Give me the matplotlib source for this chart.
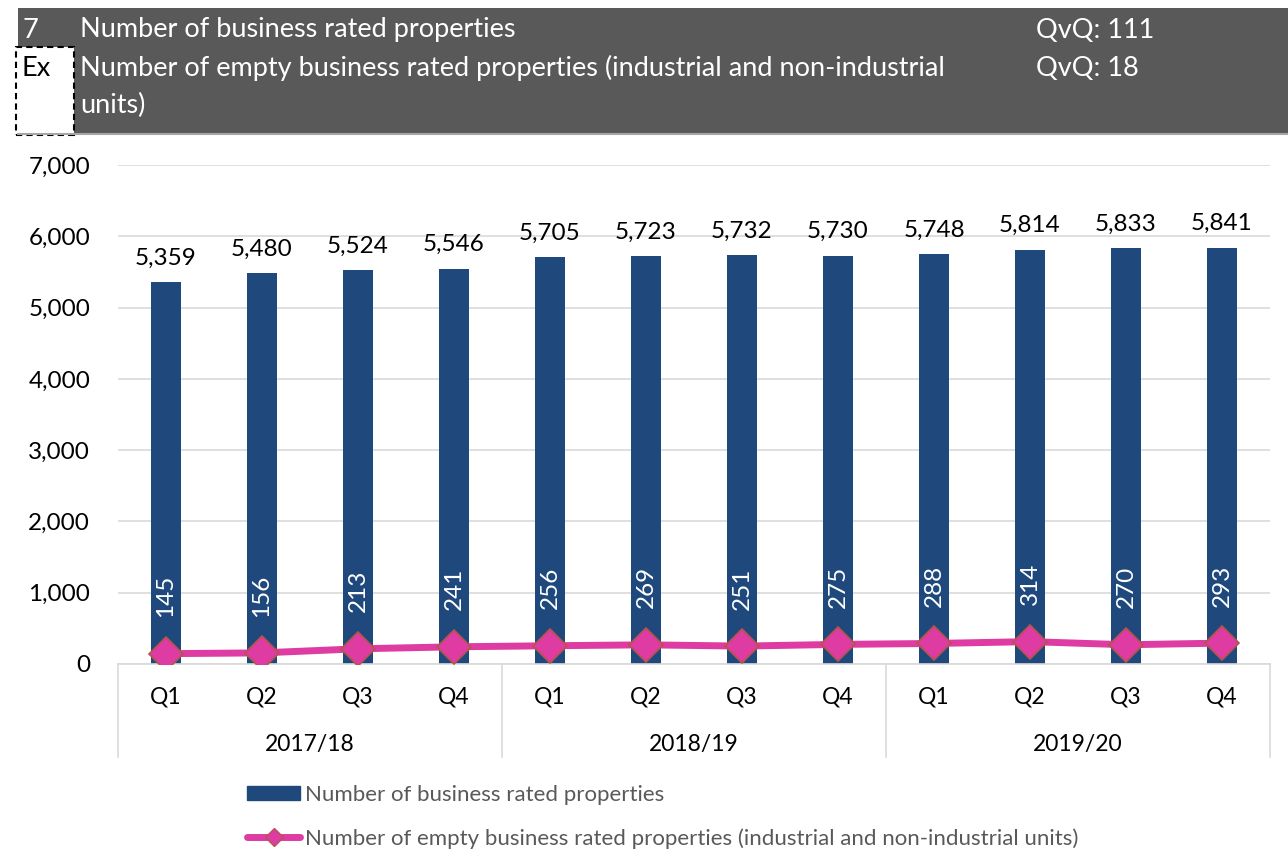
import matplotlib
matplotlib.use("Agg")
import matplotlib.pyplot as plt
import matplotlib.patches as mpatches
import matplotlib.lines as mlines
from matplotlib.transforms import blended_transform_factory

plt.rcParams['font.family'] = ['Lato', 'DejaVu Sans']

quarters = ["Q1", "Q2", "Q3", "Q4"] * 3
years = ["2017/18", "2018/19", "2019/20"]
total_props = [5359, 5480, 5524, 5546, 5705, 5723, 5732, 5730, 5748, 5814, 5833, 5841]
empty_props = [145, 156, 213, 241, 256, 269, 251, 275, 288, 314, 270, 293]
yticks = [0, 1000, 2000, 3000, 4000, 5000, 6000, 7000]

W, H = 1288, 867
fig = plt.figure(figsize=(W / 100, H / 100), dpi=100)

def fx(px):
    return px / W

def fy(py):
    return 1 - py / H

# Header band
fig.patches.append(mpatches.Rectangle((fx(18), fy(133)), fx(1288 - 18), (133 - 8) / H,
                                      transform=fig.transFigure, facecolor="#595959",
                                      edgecolor="none", zorder=0))
fig.lines.append(mlines.Line2D([fx(18), 1], [fy(134), fy(134)], transform=fig.transFigure,
                               color="#A6A6A6", lw=1.5))
# white dashed box
fig.patches.append(mpatches.Rectangle((fx(16), fy(135)), fx(58), (135 - 47) / H,
                                      transform=fig.transFigure, facecolor="white",
                                      edgecolor="black", linestyle=(0, (3, 2)), lw=1.5, zorder=1))
hfs = 19.5
fig.text(fx(22), fy(30), "7", color="white", fontsize=hfs, va="center", ha="left")
fig.text(fx(80), fy(30), "Number of business rated properties", color="white", fontsize=hfs, va="center")
fig.text(fx(1036), fy(30), "QvQ: 111", color="white", fontsize=hfs, va="center")
fig.text(fx(22), fy(68), "Ex", color="black", fontsize=hfs, va="center", zorder=3)
fig.text(fx(80), fy(68), "Number of empty business rated properties (industrial and non-industrial",
         color="white", fontsize=hfs, va="center")
fig.text(fx(80), fy(105), "units)", color="white", fontsize=hfs, va="center")
fig.text(fx(1036), fy(68), "QvQ: 18", color="white", fontsize=hfs, va="center")

ax = fig.add_axes([fx(118), fy(664), fx(1270 - 118), (664 - 165) / H])
x = list(range(len(total_props)))
bar_color = "#1F497D"
line_color = "#DE3BA3"

ax.bar(x, total_props, width=0.31, color=bar_color, zorder=2)
ax.plot(x, empty_props, color=line_color, lw=5, marker="D", markersize=17,
        markerfacecolor=line_color, markeredgecolor="#B5544D", markeredgewidth=1.2,
        zorder=4)

for xi, v in zip(x, total_props):
    ax.text(xi, v + 190, f"{v:,}", ha="center", va="bottom", fontsize=17.5, color="black")
for xi, v in zip(x, empty_props):
    ax.text(xi, v + 510, f"{v}", ha="center", va="bottom", rotation=90, fontsize=17.5,
            color="white", zorder=5)

ax.set_xlim(-0.5, len(x) - 0.5)
ax.set_ylim(0, 7000)
ax.set_yticks(yticks)
ax.set_yticklabels([f"{t:,}" for t in yticks], fontsize=17.5)
ax.yaxis.grid(True, color="#D9D9D9", lw=1.2, zorder=0)
ax.set_axisbelow(True)
for s in ["top", "right", "left"]:
    ax.spines[s].set_visible(False)
ax.spines["bottom"].set_color("#D9D9D9")
ax.spines["bottom"].set_linewidth(1.2)
ax.tick_params(axis="y", length=0, pad=20)
ax.set_xticks(x)
ax.set_xticklabels(quarters, fontsize=16.5)
ax.tick_params(axis="x", length=0, pad=16)

trans = blended_transform_factory(ax.transData, ax.transAxes)
ax_h = 664 - 165
def ay(py):
    return (664 - py) / ax_h

for b in [-0.5, 3.5, 7.5, 11.5]:
    ax.add_line(mlines.Line2D([b, b], [0, ay(757)], transform=trans, color="#D9D9D9",
                              lw=1.2, clip_on=False))
for i, yr in enumerate(years):
    ax.text(i * 4 + 1.5, ay(744), yr, transform=trans, ha="center", va="center", fontsize=16.5)

# Legend
bar_handle = mpatches.Patch(color=bar_color)
line_handle = mlines.Line2D([], [], color=line_color, lw=5, marker="D", markersize=9,
                            markerfacecolor=line_color, markeredgecolor="#B5544D",
                            solid_capstyle="round")
fig.legend([bar_handle, line_handle],
           ["Number of business rated properties",
            "Number of empty business rated properties (industrial and non-industrial units)"],
           loc="upper left", bbox_to_anchor=(fx(227), fy(765)), frameon=False,
           fontsize=16, handlelength=2.4, handleheight=0.6, handletextpad=0.2,
           labelspacing=1.05, labelcolor="#595959")

fig.savefig("out.png", dpi=100, facecolor="white")
